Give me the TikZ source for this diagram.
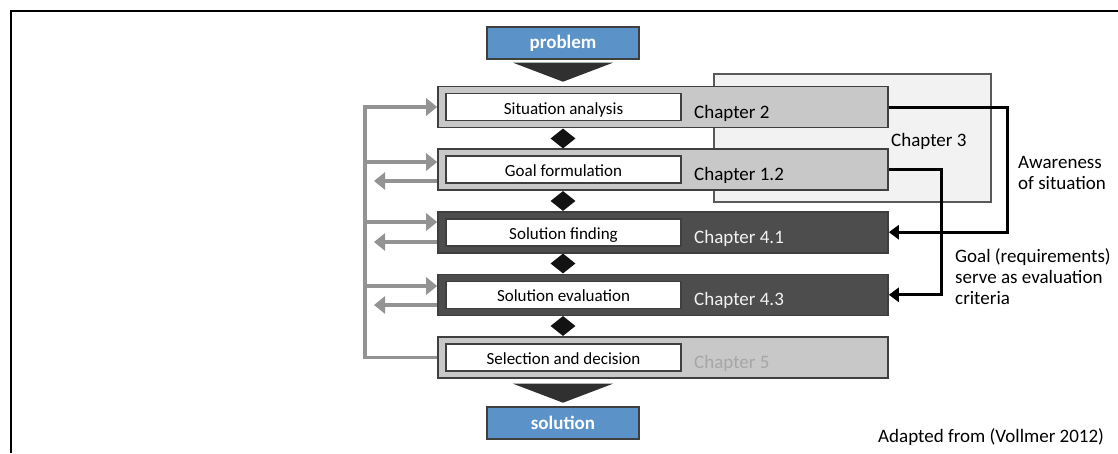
\documentclass[tikz,border=0pt]{standalone}
\usepackage{fontspec}
\setmainfont{Carlito}
\usetikzlibrary{arrows.meta,calc,shapes.geometric}
\definecolor{stageblue}{HTML}{5B93C9}
\definecolor{edgegray}{HTML}{3F3F3F}
\definecolor{lightrow}{HTML}{C8C8C8}
\definecolor{darkrow}{HTML}{4D4D4D}
\definecolor{panelgray}{HTML}{F2F2F2}
\definecolor{loopgray}{HTML}{939393}
\definecolor{trigray}{HTML}{303030}
\definecolor{fadedtext}{HTML}{A6A6A6}
\begin{document}
\begin{tikzpicture}[x=1pt,y=-1pt,
  endbox/.style={draw=edgegray, line width=1.6pt, fill=stageblue, text=white,
    font=\fontsize{19}{21}\selectfont\bfseries, minimum width=152, minimum height=32, inner sep=0},
  rowlight/.style={draw=edgegray, line width=1.6pt, fill=lightrow, minimum width=450, minimum height=41, inner sep=0},
  rowdark/.style={draw=darkrow!80!black, line width=1.6pt, fill=darkrow, minimum width=450, minimum height=41, inner sep=0},
  stepname/.style={draw=edgegray, line width=1.6pt, fill=white, minimum width=235, minimum height=27, inner sep=0,
    text height=14pt, text depth=0pt, font=\fontsize{17}{19}\selectfont},
  chap/.style={anchor=base west, inner sep=0, font=\fontsize{19}{21}\selectfont},
  note/.style={inner sep=0, align=left, font=\fontsize{19}{21}\selectfont},
  gate/.style={diamond, fill=black!93, inner sep=0, minimum width=25, minimum height=20},
  funnel/.style={fill=trigray},
  loop/.style={draw=loopgray, line width=3.5pt},
  looparrow/.style={loop, -{Triangle[length=11pt,width=17pt]}},
  link/.style={draw=black, line width=3pt, -{Triangle[length=10pt,width=14pt]}}
]
\useasboundingbox (0,0) rectangle (1118,453);

% outer frame (top and left edges)
\draw[line width=2pt] (10.5,453) -- (10.5,10.5) -- (1118,10.5);

% Chapter 3 panel behind the first two stages
\node[draw=black!65, line width=1.2pt, fill=panelgray, minimum width=277, minimum height=128, inner sep=0] (c3) at (852.5,138) {};
\node[chap] (c3t) at (891,146) {Chapter 3};

% start and end
\node[endbox] (prob) at (563,43) {problem};
\node[endbox] (sol) at (563,423) {solution};

% stages
\node[rowlight] (r1) at (663,107) {};
\node[rowlight] (r2) at (663,169.6) {};
\node[rowdark]  (r3) at (663,232.2) {};
\node[rowdark]  (r4) at (663,294.8) {};
\node[rowlight] (r5) at (663,357.4) {};

\node[stepname] (s1) at (563.5,107) {Situation analysis};
\node[stepname] (s2) at (563.5,169.6) {Goal formulation};
\node[stepname] (s3) at (563.5,232.2) {Solution finding};
\node[stepname] (s4) at (563.5,294.8) {Solution evaluation};
\node[stepname] (s5) at (563.5,357.4) {Selection and decision};

\node[chap] (t1) at (694,118) {Chapter 2};
\node[chap] (t2) at (694,180.6) {Chapter 1.2};
\node[chap, text=white!95!black] (t3) at (694,243.2) {Chapter 4.1};
\node[chap, text=white!95!black] (t4) at (694,305.8) {Chapter 4.3};
\node[chap, text=fadedtext] (t5) at (694,368.4) {Chapter 5};

% gates between stages
\node[gate] (d1) at (563,138.5) {};
\node[gate] (d2) at (563,201) {};
\node[gate] (d3) at (563,263.5) {};
\node[gate] (d4) at (563,326) {};

% funnels into and out of the process
\fill[funnel] ($(r1.north)+(-150,-23)$) -- ++(100,0) -- ($(r1.north)+(-100,-4)$) -- cycle;
\fill[funnel] ($(r5.south)+(-150,5)$) -- ++(100,0) -- ($(r5.south)+(-100,24)$) -- cycle;

% feedback loop on the left
\coordinate (b1) at (365,107);
\coordinate (b2) at (365,162);
\coordinate (b3) at (365,222);
\coordinate (b4) at (365,286);
\coordinate (o2) at (374,181);
\coordinate (o3) at (374,242);
\coordinate (o4) at (374,305);
\draw[looparrow] (r5.west) -| (b1) -- (r1.west);
\draw[looparrow] (b2) -- (b2 -| r2.west);
\draw[looparrow] (b3) -- (b3 -| r3.west);
\draw[looparrow] (b4) -- (b4 -| r4.west);
\draw[looparrow] (o2 -| r2.west) -- (o2);
\draw[looparrow] (o3 -| r3.west) -- (o3);
\draw[looparrow] (o4 -| r4.west) -- (o4);

% information links on the right
\draw[link] (r1.east) -- ++(119,0) |- (r3.east);
\draw[link] (r2.east) -- ++(53,0) |- (r4.east);

\node[note, anchor=north west] (aw) at (1018,156) {Awareness\\of situation};
\node[note, anchor=north west] (gl) at (955,248) {Goal (requirements)\\serve as evaluation\\criteria};

\node[chap] (src) at (878,442) {Adapted from (Vollmer 2012)};
\end{tikzpicture}
\end{document}
